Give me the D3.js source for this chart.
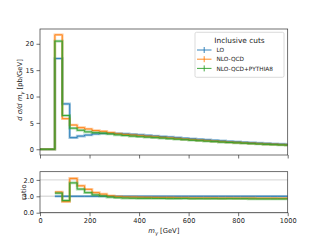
<!DOCTYPE html>
<html>
<head>
<meta charset="utf-8">
<script src="https://cdn.jsdelivr.net/npm/d3@7"></script>
<style>
  body { margin: 0; background: #fff; }
  text { font-family: "DejaVu Sans", sans-serif; }
</style>
</head>
<body>
<div id="chart"></div>
<script>
// bin edges in GeV (30 GeV bins, last one clipped at 1000)
var edges = d3.range(0, 1000, 30).concat([1000]);

// d sigma / d m_gamma [pb/GeV] per bin
var lo     = [0, 0, 17.2, 8.6, 2.2, 2.5, 2.7, 2.9, 3.0, 3.05, 3.0, 2.92, 2.83, 2.73, 2.63, 2.53, 2.43, 2.33, 2.22, 2.1, 2.0, 1.9, 1.8, 1.7, 1.6, 1.5, 1.42, 1.34, 1.26, 1.18, 1.11, 1.04, 0.98, 0.93];
var nlo    = [0, 0, 21.7, 5.8, 4.6, 4.1, 3.85, 3.55, 3.4, 3.15, 2.94, 2.8, 2.69, 2.57, 2.45, 2.35, 2.24, 2.14, 2.02, 1.91, 1.8, 1.71, 1.62, 1.53, 1.42, 1.34, 1.26, 1.19, 1.12, 1.04, 0.98, 0.92, 0.86, 0.82];
var nloPy8 = [0, 0, 20.5, 6.4, 4.0, 3.6, 3.3, 3.15, 3.06, 2.9, 2.73, 2.6, 2.49, 2.38, 2.29, 2.2, 2.11, 2.0, 1.91, 1.81, 1.7, 1.62, 1.53, 1.45, 1.36, 1.28, 1.21, 1.14, 1.06, 0.99, 0.93, 0.87, 0.82, 0.78];

var seriesNames = ["LO", "NLO-QCD", "NLO-QCD+PYTHIA8"];
var colors = ["#1f77b4", "#ff7f0e", "#2ca02c"];
var mainTicks = [0, 5, 10, 15, 20];
var ratioTicks = [0, 1, 2];
var xTicks = [0, 200, 400, 600, 800, 1000];

var svg = d3.select("#chart").append("svg")
    .attr("width", 320)
    .attr("height", 240);

var left = 40, right = 287.7;
var main = { top: 29, bottom: 155 },
    rat = { top: 171.7, bottom: 212.7 };

var x = d3.scaleLinear().domain([0, 1000]).range([left, right]);
var y = d3.scaleLinear().domain([-1.085, 22.8]).range([main.bottom, main.top]);
var yr = d3.scaleLinear().domain([0, 2.5]).range([rat.bottom, rat.top]);

svg.append("defs").append("clipPath").attr("id", "clipMain")
    .append("rect").attr("x", left).attr("y", main.top)
    .attr("width", right - left).attr("height", main.bottom - main.top);
svg.select("defs").append("clipPath").attr("id", "clipRat")
    .append("rect").attr("x", left).attr("y", rat.top)
    .attr("width", right - left).attr("height", rat.bottom - rat.top);

// build step points from per-bin values
function steps(vals, start) {
    var pts = [];
    for (var i = start; i < vals.length; i++) {
        if (vals[i] == null) continue;
        pts.push([edges[i], vals[i]]);
        pts.push([edges[i + 1], vals[i]]);
    }
    return pts;
}

var allSeries = [lo, nlo, nloPy8];

// ratio grid
var gR = svg.append("g");
gR.selectAll(".grid").data(ratioTicks).enter().append("line")
    .attr("x1", left).attr("x2", right)
    .attr("y1", function (d) { return yr(d); })
    .attr("y2", function (d) { return yr(d); })
    .attr("stroke", "#dddddd").attr("stroke-width", 1.4);

// main histograms
var lineMain = d3.line().x(function (d) { return x(d[0]); }).y(function (d) { return y(d[1]); });
var gM = svg.append("g").attr("clip-path", "url(#clipMain)");
allSeries.forEach(function (s, k) {
    var pts = steps(s, 0);
    gM.append("path").attr("d", lineMain(pts))
        .attr("fill", "none").attr("stroke", colors[k])
        .attr("stroke-width", 2.6).attr("stroke-opacity", 0.4);
    gM.append("path").attr("d", lineMain(pts))
        .attr("fill", "none").attr("stroke", colors[k])
        .attr("stroke-width", 0.9);
});

// ratio histograms
var lineRat = d3.line().x(function (d) { return x(d[0]); }).y(function (d) { return yr(d[1]); });
var gRat = svg.append("g").attr("clip-path", "url(#clipRat)");
allSeries.forEach(function (s, k) {
    var r = s.map(function (v, i) { return lo[i] > 0 ? v / lo[i] : null; });
    var pts = steps(r, 2);
    gRat.append("path").attr("d", lineRat(pts))
        .attr("fill", "none").attr("stroke", colors[k])
        .attr("stroke-width", 2.6).attr("stroke-opacity", 0.4);
    gRat.append("path").attr("d", lineRat(pts))
        .attr("fill", "none").attr("stroke", colors[k])
        .attr("stroke-width", 0.9);
});

// axes
function styleAxis(g) {
    g.selectAll(".domain").remove();
    g.selectAll("line").attr("stroke", "#333").attr("stroke-width", 0.7);
    g.selectAll("text").attr("font-size", "6.6px").attr("fill", "#222");
}

svg.append("g").attr("transform", "translate(0," + main.bottom + ")")
    .call(d3.axisBottom(x).tickValues(xTicks).tickSize(3.5).tickFormat(""))
    .call(styleAxis);
svg.append("g").attr("transform", "translate(" + left + ",0)")
    .call(d3.axisLeft(y).tickValues(mainTicks).tickSize(3.5).tickPadding(2.5))
    .call(styleAxis);
svg.append("g").attr("transform", "translate(0," + rat.bottom + ")")
    .call(d3.axisBottom(x).tickValues(xTicks).tickSize(3.5).tickPadding(2).tickFormat(d3.format("d")))
    .call(styleAxis);
svg.append("g").attr("transform", "translate(" + left + ",0)")
    .call(d3.axisLeft(yr).tickValues(ratioTicks).tickSize(3.5).tickPadding(2.5))
    .call(styleAxis);

// frames
[[main.top, main.bottom], [rat.top, rat.bottom]].forEach(function (b) {
    svg.append("rect").attr("x", left).attr("y", b[0])
        .attr("width", right - left).attr("height", b[1] - b[0])
        .attr("fill", "none").attr("stroke", "#333").attr("stroke-width", 0.7);
});

// labels
var yl = svg.append("text")
    .attr("transform", "translate(22," + ((main.top + main.bottom) / 2 - 2) + ") rotate(-90)")
    .attr("text-anchor", "middle").attr("font-size", "6.8px").attr("fill", "#222");
yl.append("tspan").attr("font-style", "italic").text("d σ/d m");
yl.append("tspan").attr("font-style", "italic").attr("font-size", "5px").attr("dy", "1.5").text("γ");
yl.append("tspan").attr("dy", "-1.5").text(" [pb/GeV]");

svg.append("text")
    .attr("transform", "translate(25.5," + ((rat.top + rat.bottom) / 2) + ") rotate(-90)")
    .attr("text-anchor", "middle").attr("font-size", "6.8px").attr("fill", "#222")
    .text("ratio");

var xl = svg.append("text")
    .attr("x", (left + right) / 2).attr("y", 233)
    .attr("text-anchor", "middle").attr("font-size", "6.8px").attr("fill", "#222");
xl.append("tspan").attr("font-style", "italic").text("m");
xl.append("tspan").attr("font-style", "italic").attr("font-size", "5px").attr("dy", "1.5").text("γ");
xl.append("tspan").attr("dy", "-1.5").text(" [GeV]");

// legend
var lg = svg.append("g").attr("transform", "translate(195,32.3)");
lg.append("rect").attr("width", 89).attr("height", 45).attr("rx", 1.5)
    .attr("fill", "#fff").attr("fill-opacity", 0.8)
    .attr("stroke", "#ccc").attr("stroke-width", 0.7);
lg.append("text").attr("x", 44.5).attr("y", 10.5).attr("text-anchor", "middle")
    .attr("font-size", "7.4px").attr("fill", "#222").text("Inclusive cuts");
seriesNames.forEach(function (n, i) {
    var yy = 17.7 + i * 9.2;
    lg.append("line").attr("x1", 2).attr("x2", 16.5).attr("y1", yy).attr("y2", yy)
        .attr("stroke", colors[i]).attr("stroke-width", 0.9);
    lg.append("line").attr("x1", 9.2).attr("x2", 9.2).attr("y1", yy - 3).attr("y2", yy + 3)
        .attr("stroke", colors[i]).attr("stroke-width", 0.9);
    lg.append("text").attr("x", 21.5).attr("y", yy + 2.2)
        .attr("font-size", "5.8px").attr("fill", "#222").text(n);
});
</script>
</body>
</html>
